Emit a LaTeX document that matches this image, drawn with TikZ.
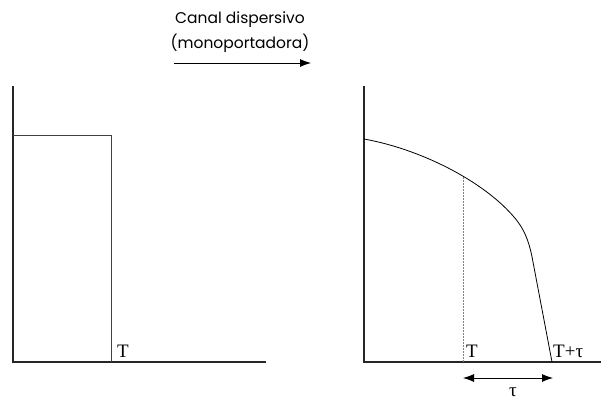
\documentclass[tikz,border=0pt]{standalone}
\usepackage{fontspec}
\setmainfont{Liberation Serif}
\newfontfamily\geo{Poppins}
\usetikzlibrary{arrows.meta}
\begin{document}
\begin{tikzpicture}[x=1pt,y=-1pt,
  axis/.style={line width=1.4pt,draw=black!85},
  sig/.style={line width=0.9pt,draw=black!75},
  lbl/.style={font=\fontsize{19}{19}\selectfont,inner sep=0pt},
  tip/.style={-{Latex[length=11pt,width=8pt]}},
  dtip/.style={{Latex[length=11pt,width=8pt]}-{Latex[length=11pt,width=8pt]}}]
\useasboundingbox (0,0) rectangle (608,399);
% header
\node[font=\geo\fontsize{15.5}{25}\selectfont,align=center,inner sep=0pt] (title) at (240,32) {Canal dispersivo\\(monoportadora)};
\coordinate (ha) at (174,63);
\coordinate (hb) at (311,63);
\draw[line width=0.8pt,tip] (ha) -- (hb);
% left plot
\coordinate (lo) at (13,362);
\coordinate (ltop) at (13,86);
\coordinate (lx) at (266,362);
\coordinate (r1) at (13,135);
\coordinate (r2) at (111,135);
\coordinate (r3) at (111,362);
\draw[axis] (ltop) -- (lo) -- (lx);
\draw[sig] (r1) -- (r2) -- (r3);
\node[lbl,anchor=base west] (tl) at (117,357) {T};
% right plot
\coordinate (ro) at (364,362);
\coordinate (rtop) at (364,86);
\coordinate (rx) at (601,362);
\draw[axis] (rtop) -- (ro) -- (rx);
\coordinate (c0) at (364,139);
\coordinate (cm) at (518,222);
\coordinate (cb) at (533,262);
\coordinate (ce) at (552,362);
\draw[line width=0.8pt] (c0) .. controls (425,150) and (490,185) .. (cm)
  .. controls (526,233) and (530,245) .. (cb) -- (ce);
\coordinate (dt) at (463,177);
\coordinate (db) at (463,362);
\draw[black!50,line width=0.6pt,dash pattern=on 2pt off 1pt] (dt) -- (db);
\node[lbl,anchor=base west] (tr) at (466,357) {T};
\node[lbl,anchor=base west] (ttau) at (553,357) {T+τ};
\coordinate (aa) at (463,378);
\coordinate (ab) at (553,378);
\draw[line width=0.8pt,dtip] (aa) -- (ab);
\node[lbl,anchor=base] (tau) at (513,396) {τ};
\end{tikzpicture}
\end{document}
